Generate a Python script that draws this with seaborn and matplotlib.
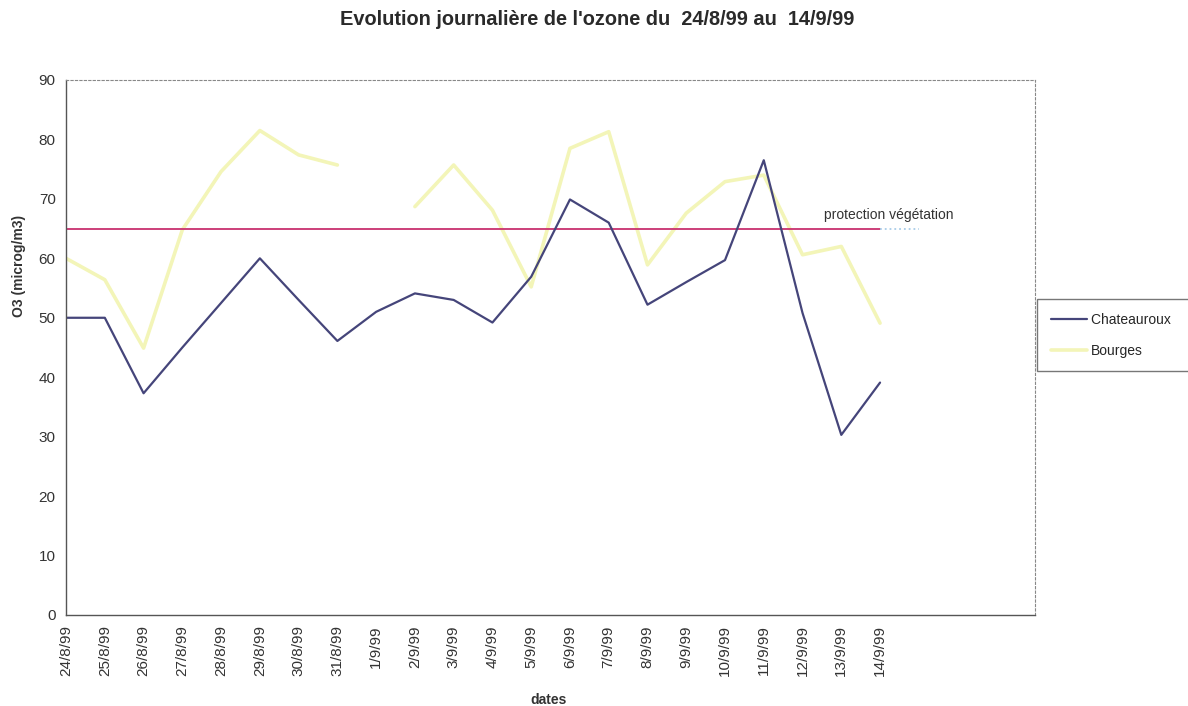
import numpy as np
import pandas as pd
import seaborn as sns
import matplotlib.pyplot as plt
from matplotlib.lines import Line2D

# dates of the daily ozone readings
dates = ['24/8/99', '25/8/99', '26/8/99', '27/8/99', '28/8/99', '29/8/99',
         '30/8/99', '31/8/99', '1/9/99', '2/9/99', '3/9/99', '4/9/99',
         '5/9/99', '6/9/99', '7/9/99', '8/9/99', '9/9/99', '10/9/99',
         '11/9/99', '12/9/99', '13/9/99', '14/9/99']
n_slots = 26  # the category axis carries a few empty slots at the end

chateauroux = [50, 50, 37.3, 45, 52.5, 60, 53, 46.1, 51, 54.1, 53, 49.2,
               56.9, 69.9, 66, 52.2, 56, 59.7, 76.5, 50.8, 30.3, 39.1]
bourges = [60, 56.4, 44.9, 64.8, 74.6, 81.5, 77.4, 75.7, np.nan, 68.7, 75.7,
           68.1, 55.2, 78.5, 81.3, 58.9, 67.6, 72.9, 74, 60.6, 62, 49.1]
seuil = 65  # protection végétation

df = pd.DataFrame({'idx': range(len(dates)), 'date': dates,
                   'Chateauroux': chateauroux, 'Bourges': bourges,
                   'seuil': [seuil] * len(dates)})

sns.set_style('white')
plt.rcParams['font.family'] = ['Liberation Sans', 'DejaVu Sans']

fig = plt.figure(figsize=(11.88, 7.06), dpi=100)
ax = fig.add_axes([0.0556, 0.1289, 0.8157, 0.7578])

c_chat = '#45457a'
c_bour = '#f3f5b8'
c_seuil = '#c8306e'

# Bourges has a missing day (1/9) -> draw the two pieces separately
b1 = df[df['idx'] < 8]
b2 = df[df['idx'] > 8]
sns.lineplot(ax=ax, data=b1, x='idx', y='Bourges', color=c_bour, linewidth=2.6)
sns.lineplot(ax=ax, data=b2, x='idx', y='Bourges', color=c_bour, linewidth=2.6)
sns.lineplot(ax=ax, data=df, x='idx', y='seuil', color=c_seuil, linewidth=1.3)
ax.plot([len(dates) - 1, len(dates)], [seuil, seuil], color='#a8cce8',
        linewidth=1.3, linestyle=':')
sns.lineplot(ax=ax, data=df, x='idx', y='Chateauroux', color=c_chat, linewidth=1.6)

ax.text(19.56, 67.3, 'protection végétation', fontsize=10, color='#333333',
        va='center', ha='left')

ax.set_xlim(0, n_slots - 1)
ax.set_ylim(0, 90)
ax.set_xticks(range(n_slots))
ax.set_xticklabels(dates + [''] * (n_slots - len(dates)), rotation=90,
                   fontsize=11, color='#333333')
ax.set_yticks(range(0, 91, 10))
ax.set_yticklabels([str(v) for v in range(0, 91, 10)], fontsize=11, color='#333333')
ax.tick_params(axis='both', direction='inout', length=7, width=0.8,
               color='#555555', pad=4)

for side in ['left', 'bottom']:
    ax.spines[side].set_color('#555555')
    ax.spines[side].set_linewidth(1.0)
for side in ['top', 'right']:
    ax.spines[side].set_color('#888888')
    ax.spines[side].set_linewidth(0.8)
    ax.spines[side].set_linestyle((0, (2, 2)))

ax.set_xlabel('')
ax.set_ylabel('')
fig.text(0.462, 0.009, 'dates', fontsize=10, fontweight='bold',
         color='#333333', ha='center', va='center')
fig.text(0.016, 0.623, 'O3 (microg/m3)', fontsize=10, fontweight='bold',
         color='#333333', rotation=90, ha='center', va='center')
fig.suptitle("Evolution journalière de l'ozone du  24/8/99 au  14/9/99",
             x=0.503, y=0.972, va='center', fontsize=14.4, fontweight='bold',
             color='#2a2a2a')

handles = [Line2D([], [], color=c_chat, linewidth=1.6),
           Line2D([], [], color=c_bour, linewidth=2.6)]
leg = fig.legend(handles, ['Chateauroux   ', 'Bourges'], loc='upper left',
                 bbox_to_anchor=(0.873, 0.5765), borderaxespad=0, fontsize=10,
                 frameon=True, fancybox=False, edgecolor='#555555',
                 handlelength=2.6, handletextpad=0.3, labelspacing=1.2,
                 borderpad=1.0)
leg.get_frame().set_linewidth(1.0)

fig.savefig('out.png', dpi=100)
